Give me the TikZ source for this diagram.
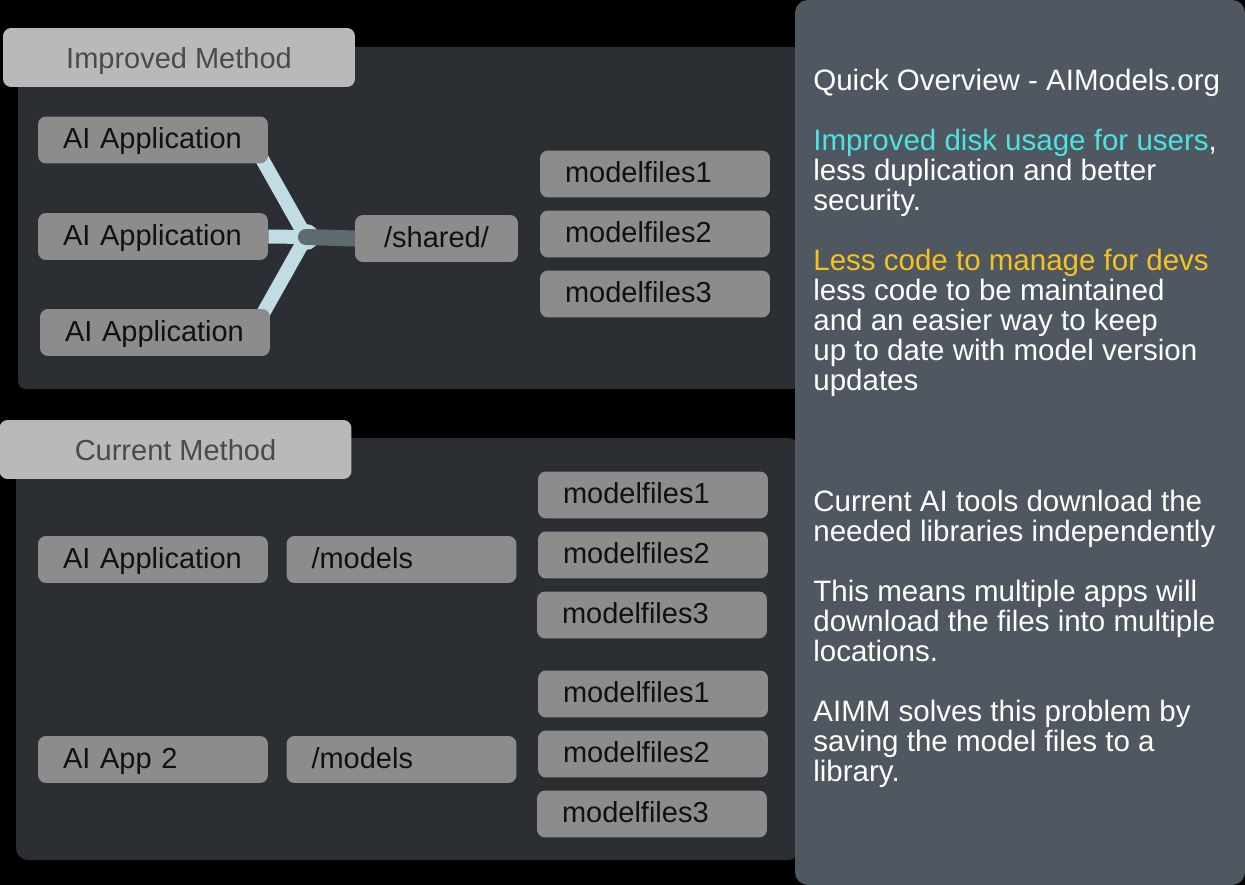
\documentclass[tikz,border=0pt]{standalone}
\usepackage{fontspec}
\setmainfont{Liberation Sans}
\usepackage{xcolor}
\usepackage{tikz}
\usetikzlibrary{calc}
\definecolor{paneldark}{RGB}{43, 47, 51}
\definecolor{sidepanel}{RGB}{79, 87, 96}
\definecolor{headgray}{RGB}{185, 185, 185}
\definecolor{headtext}{RGB}{74, 74, 74}
\definecolor{boxgray}{RGB}{140, 140, 140}
\definecolor{boxtext}{RGB}{17, 17, 17}
\definecolor{linkblue}{RGB}{192, 221, 227}
\definecolor{linkdark}{RGB}{94, 107, 112}
\definecolor{hlcyan}{RGB}{77, 227, 227}
\definecolor{hlorange}{RGB}{247, 194, 30}
\pgfdeclarelayer{back}
\pgfdeclarelayer{links}
\pgfsetlayers{back,links,main}

\begin{document}
\begin{tikzpicture}[
  x=0.02cm, y=-0.02cm,
  header/.style={rectangle, rounded corners=0.16cm, fill=headgray, text=headtext,
    minimum width=7.04cm, minimum height=1.18cm, text height=15pt, text depth=2pt,
    font=\fontsize{16.5}{18}\selectfont},
  filebox/.style={rectangle, rounded corners=0.16cm, fill=boxgray, text=boxtext,
    minimum width=4.6cm, minimum height=0.94cm, text width=3.6cm, inner xsep=0.5cm,
    inner ysep=0pt, text height=13pt, text depth=3.3pt, align=left,
    font=\fontsize{16.5}{18}\selectfont},
  link/.style={draw=linkblue, line width=0.28cm},
  note/.style={anchor=north west, inner sep=0pt, align=left, text=white,
    font=\fontsize{16.8}{17.07}\selectfont}
]
\useasboundingbox (0,0) rectangle (1245,885);

% Backdrop and panels
\begin{pgfonlayer}{back}
\fill[black] (0,0) rectangle (1245,885);
\fill[paneldark, rounded corners=0.16cm] (18,47) rectangle (800,389);
\fill[paneldark, rounded corners=0.24cm] (16,438) rectangle (800,860);
\fill[sidepanel, rounded corners=0.26cm] (795,0) rectangle (1245,885);
\end{pgfonlayer}

% Improved method
\node[header] (improved) at (179,57.5) {Improved Method};
\node[filebox] (app1) at (153,140) {AI Application};
\node[filebox] (app2) at (153,236.5) {AI Application};
\node[filebox] (app3) at (155,332.5) {AI Application};
\node[filebox, minimum width=3.26cm, text width=2.26cm, align=center] (shared) at (436.5,238.5) {/shared/};
\node[filebox] (mfa) at (655,174) {modelfiles1};
\node[filebox] (mfb) at (655,234) {modelfiles2};
\node[filebox] (mfc) at (655,294) {modelfiles3};
\coordinate (hub) at (306,237);

% Current method
\node[header] (current) at (175.5,449.5) {Current Method};
\node[filebox] (capp) at (153,559.5) {AI Application};
\node[filebox] (cmodels) at (401.5,559.5) {/models};
\node[filebox] (cmfa) at (653,495) {modelfiles1};
\node[filebox] (cmfb) at (653,555) {modelfiles2};
\node[filebox] (cmfc) at (652,615) {modelfiles3};
\node[filebox] (dapp) at (153,759.5) {AI App 2};
\node[filebox] (dmodels) at (401.5,759.5) {/models};
\node[filebox] (dmfa) at (653,694) {modelfiles1};
\node[filebox] (dmfb) at (653,754) {modelfiles2};
\node[filebox] (dmfc) at (652,814) {modelfiles3};

% Links to the shared folder
\begin{pgfonlayer}{links}
\draw[link] ($(app1.east)+(-17,0)$) -- (hub);
\draw[link] (app2.east) -- (hub);
\draw[link] ($(app3.east)+(-18,0)$) -- (hub);
\fill[linkblue] (hub) circle (0.26cm);
\draw[linkdark, line width=0.32cm, line cap=round] (hub) -- (shared.west);
\end{pgfonlayer}

% Overview text
\node[note] (overview) at (813,65) {\rule{0pt}{0.5cm}Quick Overview - AIModels.org\\[0.6cm]
  \textcolor{hlcyan}{Improved disk usage for users},\\
  less duplication and better\\
  security.\\[0.6cm]
  \textcolor{hlorange}{Less code to manage for devs}\\
  less code to be maintained\\
  and an easier way to keep\\
  up to date with model version\\
  updates};
\node[note] (problem) at (813,486) {\rule{0pt}{0.5cm}Current AI tools download the\\
  needed libraries independently\\[0.6cm]
  This means multiple apps will\\
  download the files into multiple\\
  locations.\\[0.6cm]
  AIMM solves this problem by\\
  saving the model files to a\\
  library.};

\end{tikzpicture}
\end{document}
